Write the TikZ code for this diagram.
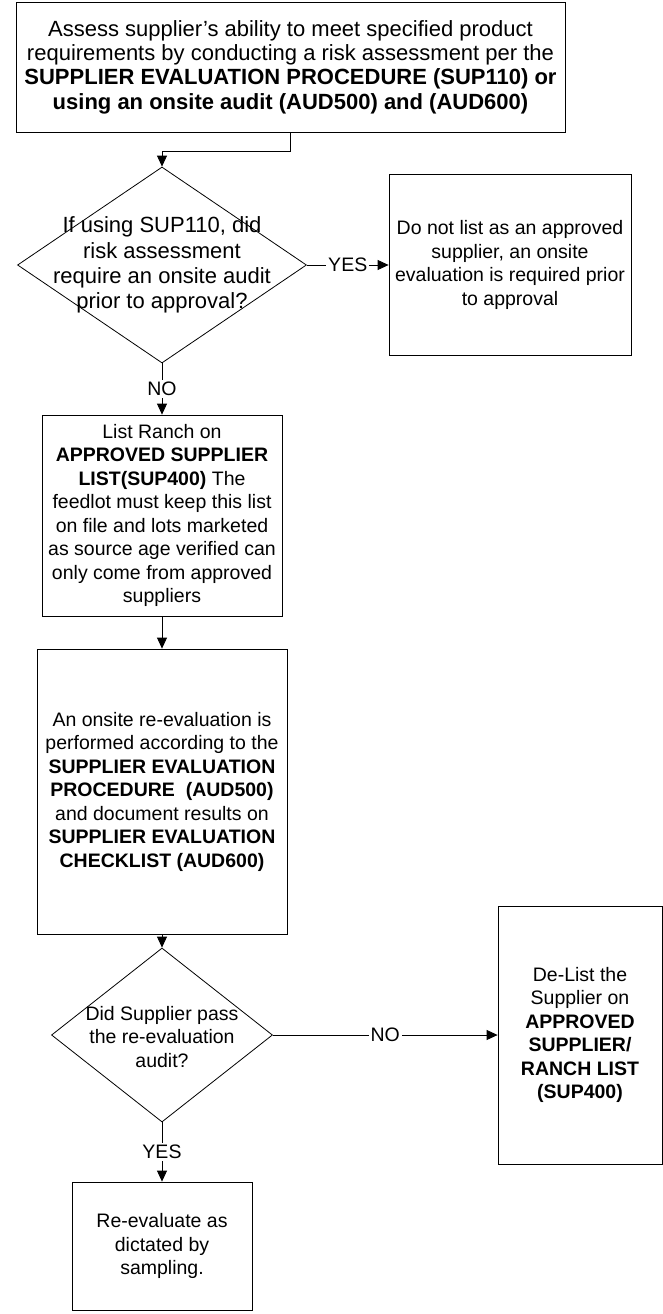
\documentclass[tikz,border=0pt]{standalone}
\usepackage{fontspec}
\setmainfont{Liberation Sans}
\usetikzlibrary{positioning}
\usetikzlibrary{shapes.geometric}
\usetikzlibrary{arrows.meta}

\begin{document}
\begin{tikzpicture}[x=1pt, y=-1pt, line width=0.8pt,
        >={Triangle[length=11pt, width=10pt]},
        box/.style={draw, rectangle, align=center, inner sep=0pt, font=\fontsize{19.5}{23.5}\selectfont},
        dec/.style={draw, diamond, inner sep=0pt},
        txt/.style={align=center, inner sep=0pt, font=\fontsize{19.5}{23.5}\selectfont},
        lbl/.style={fill=white, inner sep=2pt, font=\fontsize{19.5}{23.5}\selectfont}]
        \useasboundingbox (0,0) rectangle (663,1314);

        \node[box, minimum width=549pt, minimum height=130pt, font=\fontsize{22}{24.3}\selectfont] (assess) at (290.5,67)
            {Assess supplier’s ability to meet specified product\\
             requirements by conducting a risk assessment per the\\
             \textbf{SUPPLIER EVALUATION PROCEDURE (SUP110) or}\\
             \textbf{using an onsite audit (AUD500) and (AUD600)}};

        \node[dec, minimum width=289pt, minimum height=196pt] (q1) at (162,265) {};
        \node[txt, font=\fontsize{22}{25.3}\selectfont] (q1t) at (q1) {If using SUP110, did\\ risk assessment\\ require an onsite audit\\ prior to approval?};

        \node[box, minimum width=242pt, minimum height=181pt] (nolist) at (510,265)
            {Do not list as an approved\\ supplier, an onsite\\ evaluation is required prior\\ to approval};

        \node[box, minimum width=240pt, minimum height=201pt] (list) at (162,515.5)
            {List Ranch on\\ \textbf{APPROVED SUPPLIER}\\ \textbf{LIST(SUP400)} The\\ feedlot must keep this list\\
             on file and lots marketed\\ as source age verified can\\ only come from approved\\ suppliers};

        \node[box, minimum width=250pt, minimum height=285pt] (reeval) at (162,791.5)
            {An onsite re-evaluation is\\ performed according to the\\ \textbf{SUPPLIER EVALUATION}\\
             \textbf{PROCEDURE~~(AUD500)}\\ and document results on\\ \textbf{SUPPLIER EVALUATION}\\
             \textbf{CHECKLIST (AUD600)}};

        \node[dec, minimum width=221pt, minimum height=174pt] (q2) at (162,1035) {};
        \node[txt] (q2t) at (162,1037) {Did Supplier pass\\ the re-evaluation\\ audit?};

        \node[box, minimum width=164pt, minimum height=258pt] (delist) at (580,1035)
            {De-List the\\ Supplier on\\ \textbf{APPROVED}\\ \textbf{SUPPLIER/}\\ \textbf{RANCH LIST}\\ \textbf{(SUP400)}};

        \node[box, minimum width=180pt, minimum height=128pt] (resample) at (162,1246)
            {Re-evaluate as\\ dictated by\\ sampling.};

        \draw[->] (assess.south) -- ++(0,19) -| (q1.north);
        \draw[->] (q1.east) -- node[lbl] (yes1) {YES} (nolist.west);
        \draw[->] (q1.south) -- node[lbl] (no1) {NO} (list.north);
        \draw[->] (list) -- (reeval);
        \draw[->] (reeval) -- (q2);
        \draw[->] (q2.east) -- node[lbl] (no2) {NO} (delist.west);
        \draw[->] (q2.south) -- node[lbl] (yes2) {YES} (resample.north);
    \end{tikzpicture}
\end{document}
